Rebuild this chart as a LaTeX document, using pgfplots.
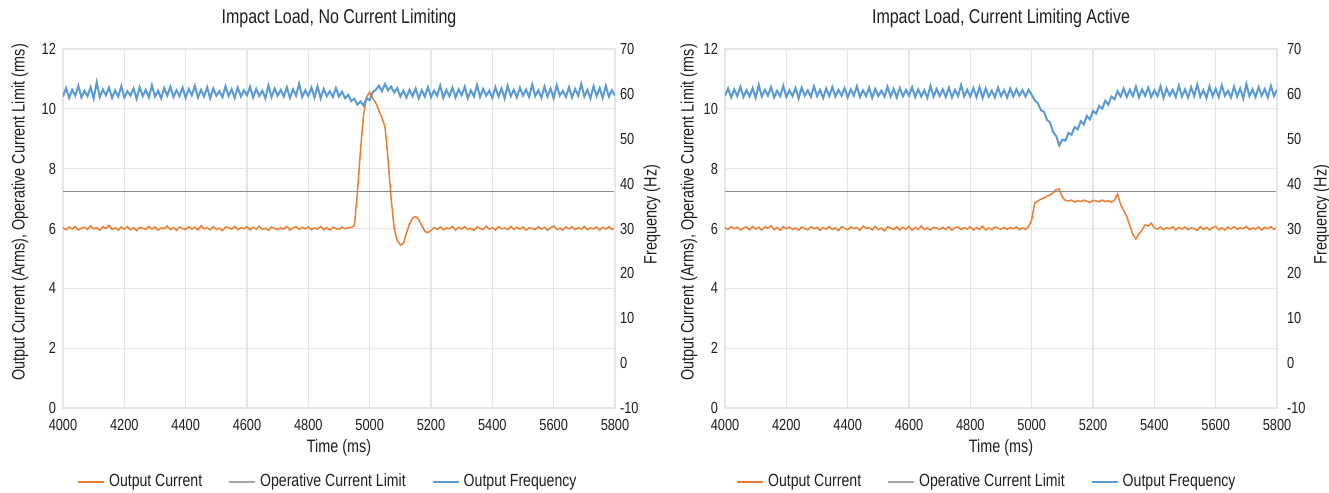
\documentclass[border=0pt]{standalone}
\usepackage{fontspec}
\setmainfont{Liberation Sans}[FakeStretch=0.8]
\usepackage{pgfplots}
\usepackage{pgfplotstable}
\pgfplotsset{compat=1.18}
\definecolor{cOrange}{HTML}{ED7D31}
\definecolor{cGray}{HTML}{A5A5A5}
\definecolor{cLimit}{HTML}{8C8C8C}
\definecolor{cBlue}{HTML}{5B9BD5}
\definecolor{cGrid}{HTML}{E6E6E6}
\definecolor{cText}{HTML}{1F1F1F}

\pgfplotstableread{
t I F
4000 6.02 59.4
4010 5.96 61.3
4020 6.05 59.1
4030 5.98 60.9
4040 6.07 59.6
4050 5.95 61.8
4060 6.01 59.2
4070 6.04 60.7
4080 5.97 59.5
4090 6.08 61.5
4100 5.99 59.0
4110 6.03 62.6
4120 5.94 59.3
4130 6.06 61.0
4140 6.00 59.7
4150 6.10 61.4
4160 5.97 59.1
4170 6.02 60.8
4180 5.95 59.4
4190 6.05 61.7
4200 5.98 59.2
4210 6.06 60.6
4220 5.96 59.6
4230 6.03 61.2
4240 5.93 58.9
4250 6.04 61.5
4260 6.01 59.5
4270 5.97 60.9
4280 6.07 59.2
4290 5.98 61.9
4300 6.05 59.4
4310 5.95 60.7
4320 6.02 59.0
4330 5.99 61.3
4340 6.08 59.6
4350 5.96 61.6
4360 6.03 59.3
4370 5.94 60.8
4380 6.05 59.5
4390 6.00 61.4
4400 5.97 59.1
4410 6.06 61.1
4420 5.98 59.7
4430 6.04 61.8
4440 5.95 59.2
4450 6.09 60.9
4460 5.99 59.4
4470 6.02 61.5
4480 5.96 59.0
4490 6.06 61.2
4500 5.97 59.6
4510 6.01 60.6
4520 5.93 59.3
4530 6.05 61.7
4540 6.02 59.5
4550 5.98 61.0
4560 6.07 59.1
4570 5.96 61.4
4580 6.03 59.4
4590 5.99 60.8
4600 6.06 59.7
4610 5.95 61.6
4620 6.04 59.2
4630 5.98 61.1
4640 6.08 59.5
4650 5.97 60.7
4660 6.01 59.0
4670 5.94 61.9
4680 6.05 59.3
4690 6.00 61.2
4700 5.96 59.6
4710 6.03 60.9
4720 5.98 59.4
4730 6.07 61.5
4740 5.95 59.1
4750 6.02 61.0
4760 6.06 59.6
4770 5.97 62.3
4780 6.04 59.3
4790 5.99 60.8
4800 6.05 59.5
4810 5.96 61.4
4820 6.02 59.2
4830 5.98 61.7
4840 6.07 59.0
4850 5.96 61.1
4860 6.03 59.5
4870 5.95 60.6
4880 6.04 59.3
4890 6.00 61.3
4900 5.97 59.4
4910 6.05 60.5
4920 5.99 59.0
4930 6.02 59.8
4940 6.04 58.4
4950 6.08 58.9
4960 7.20 57.6
4970 8.60 58.3
4980 9.80 57.4
4990 10.40 59.0
5000 10.55 58.6
5010 10.35 60.4
5020 10.20 60.9
5030 9.95 61.8
5040 9.70 60.6
5050 9.40 62.2
5060 8.30 60.8
5070 7.00 61.6
5080 6.00 60.3
5090 5.60 61.3
5100 5.45 59.4
5110 5.50 60.7
5120 5.85 59.2
5130 6.15 60.9
5140 6.35 59.5
5150 6.40 61.2
5160 6.30 59.0
5170 6.10 60.8
5180 5.90 59.4
5190 5.86 61.5
5200 5.94 59.3
5210 6.03 60.7
5220 5.97 59.6
5230 6.05 61.8
5240 5.96 59.1
5250 6.02 60.9
5260 5.99 59.5
5270 6.07 61.4
5280 5.95 59.2
5290 6.04 61.0
5300 5.98 59.7
5310 6.06 61.6
5320 5.96 59.0
5330 6.01 60.8
5340 5.94 59.4
5350 6.05 62.0
5360 6.00 59.3
5370 5.97 61.1
5380 6.08 59.6
5390 5.98 60.7
5400 6.03 59.1
5410 5.95 61.5
5420 6.06 59.4
5430 5.99 61.2
5440 6.02 59.0
5450 5.96 61.8
5460 6.07 59.5
5470 5.97 60.9
5480 6.04 59.2
5490 5.98 61.4
5500 6.05 59.6
5510 5.95 61.0
5520 6.02 59.3
5530 6.00 62.1
5540 5.96 59.5
5550 6.06 60.8
5560 5.98 59.1
5570 6.04 61.6
5580 5.94 59.4
5590 6.03 61.2
5600 6.08 59.0
5610 5.97 61.9
5620 6.01 59.6
5630 5.95 60.7
5640 6.05 59.3
5650 5.99 61.5
5660 6.06 59.2
5670 5.96 61.1
5680 6.03 59.6
5690 5.98 62.2
5700 6.07 59.4
5710 5.96 60.9
5720 6.02 59.0
5730 5.99 61.7
5740 6.05 59.5
5750 5.95 61.3
5760 6.04 59.1
5770 5.98 61.8
5780 6.06 59.4
5790 5.97 60.8
5800 6.01 59.6
}\dataA

\pgfplotstableread{
t I F
4000 6.03 59.5
4010 5.97 61.2
4020 6.06 59.2
4030 5.99 61.0
4040 6.04 59.5
4050 5.95 61.6
4060 6.02 59.3
4070 6.05 60.8
4080 5.96 59.4
4090 6.07 61.3
4100 5.98 59.1
4110 6.04 62.0
4120 5.95 59.4
4130 6.05 60.9
4140 6.01 59.6
4150 6.09 61.5
4160 5.96 59.2
4170 6.03 60.7
4180 5.94 59.5
4190 6.06 61.8
4200 5.99 59.3
4210 6.05 60.8
4220 5.97 59.5
4230 6.02 61.3
4240 5.94 59.0
4250 6.05 61.4
4260 6.00 59.6
4270 5.96 60.8
4280 6.06 59.3
4290 5.99 61.7
4300 6.04 59.5
4310 5.94 60.9
4320 6.03 59.1
4330 5.98 61.2
4340 6.07 59.5
4350 5.97 61.5
4360 6.02 59.4
4370 5.93 60.9
4380 6.06 59.6
4390 6.01 61.3
4400 5.96 59.2
4410 6.05 61.0
4420 5.99 59.6
4430 6.03 61.7
4440 5.94 59.3
4450 6.08 60.8
4460 6.00 59.5
4470 6.03 61.4
4480 5.95 59.1
4490 6.07 61.1
4500 5.96 59.5
4510 6.02 60.7
4520 5.92 59.4
4530 6.06 61.6
4540 6.01 59.4
4550 5.97 61.1
4560 6.06 59.2
4570 5.95 61.3
4580 6.04 59.5
4590 5.98 60.9
4600 6.07 59.6
4610 5.94 61.5
4620 6.03 59.3
4630 5.97 61.0
4640 6.09 59.4
4650 5.96 60.8
4660 6.02 59.1
4670 5.95 61.8
4680 6.04 59.4
4690 6.01 61.1
4700 5.97 59.5
4710 6.04 61.0
4720 5.97 59.3
4730 6.06 61.4
4740 5.94 59.2
4750 6.03 60.9
4760 6.05 59.5
4770 5.96 62.0
4780 6.03 59.4
4790 5.98 60.9
4800 6.06 59.4
4810 5.95 61.3
4820 6.03 59.3
4830 5.97 61.5
4840 6.08 59.1
4850 5.95 61.2
4860 6.02 59.4
4870 5.96 60.7
4880 6.05 59.2
4890 6.01 61.4
4900 5.98 59.5
4910 6.04 60.8
4920 5.97 59.2
4930 6.03 61.2
4940 5.99 59.4
4950 6.05 61.0
4960 5.96 59.6
4970 6.02 60.8
4980 5.97 59.4
4990 6.06 60.9
5000 6.30 59.8
5010 6.85 58.6
5020 6.92 57.9
5030 6.98 56.4
5040 7.02 56.0
5050 7.08 54.2
5060 7.12 53.6
5070 7.20 51.5
5080 7.30 50.6
5090 7.32 48.5
5100 7.05 49.8
5110 6.94 49.6
5120 6.92 51.3
5130 6.95 50.9
5140 6.88 52.6
5150 6.93 52.1
5160 6.90 53.9
5170 6.95 53.2
5180 6.91 55.1
5190 6.87 54.3
5200 6.94 56.2
5210 6.92 55.6
5220 6.89 57.3
5230 6.95 56.7
5240 6.90 58.5
5250 6.93 57.6
5260 6.88 59.4
5270 6.95 58.8
5280 7.15 60.6
5290 6.80 59.4
5300 6.60 61.2
5310 6.40 59.3
5320 6.10 60.9
5330 5.80 59.5
5340 5.65 61.6
5350 5.82 59.2
5360 5.95 61.0
5370 6.12 59.6
5380 6.08 61.4
5390 6.18 59.3
5400 6.02 60.8
5410 5.98 59.5
5420 6.05 61.7
5430 5.96 59.1
5440 6.03 61.2
5450 5.99 59.6
5460 6.06 60.9
5470 5.95 59.3
5480 6.04 61.8
5490 5.98 59.4
5500 6.05 61.0
5510 5.96 59.2
5520 6.02 61.5
5530 6.00 59.5
5540 5.94 62.1
5550 6.06 59.4
5560 5.97 60.8
5570 6.04 59.1
5580 5.95 61.7
5590 6.03 59.5
5600 6.07 61.1
5610 5.96 59.3
5620 6.02 61.9
5630 5.95 59.6
5640 6.05 60.7
5650 5.98 59.2
5660 6.06 61.6
5670 5.97 59.4
5680 6.03 61.2
5690 5.99 59.0
5700 6.07 62.2
5710 5.96 59.5
5720 6.02 61.0
5730 5.98 59.3
5740 6.05 61.5
5750 5.95 59.6
5760 6.04 61.1
5770 5.99 59.2
5780 6.06 61.8
5790 5.97 59.5
5800 6.02 60.9
}\dataB

\pgfplotstableread{
t L
4000 7.25
5800 7.25
}\limitdata

\pgfplotsset{
  base/.style={
    scale only axis, width=276pt, height=179.5pt,
    xmin=4000, xmax=5800,
    font=\fontsize{8}{9.5}\selectfont,
    tick label style={font=\fontsize{8}{9.5}\selectfont, text=cText},
    label style={font=\fontsize{9}{10.5}\selectfont, text=cText},
    /pgf/number format/assume math mode=true,
    /pgf/number format/1000 sep={},
    major tick length=0pt,
    axis line style={cGrid, line width=0.6pt},
  },
  primary/.style={
    base,
    ymin=0, ymax=12, ytick={0,2,...,12},
    xtick={4000,4200,...,5800},
    grid=major, grid style={cGrid, line width=0.55pt},
    xticklabel style={yshift=-2pt},
    xlabel={Time (ms)},
    xlabel style={at={(axis description cs:0.5,0)}, anchor=center, yshift=-20pt},
    ylabel={Output Current (Arms), Operative Current Limit (rms)},
    ylabel style={at={(axis description cs:0,0.5)}, anchor=center, xshift=8pt, yshift=21.5pt},
    every axis title shift=0pt,
    title style={at={(axis description cs:0.5,1)}, anchor=center, yshift=15.5pt, font=\fontsize{10}{12}\selectfont, text=cText},
    legend columns=3,
    legend style={at={(axis description cs:0.5,0)}, anchor=center, yshift=-37pt, xshift=-5pt, draw=none, fill=none,
      font=\fontsize{8.8}{10}\selectfont, text=cText,
      /tikz/every even column/.append style={column sep=11pt}},
    legend image code/.code={\draw[#1] (0pt,0pt) -- (13pt,0pt);},
  },
  secondary/.style={
    base,
    axis y line*=right, axis x line=none,
    ymin=-10, ymax=70, ytick={-10,0,...,70},
    ylabel={Frequency (Hz)},
    ylabel style={at={(axis description cs:1,0.5)}, anchor=center, xshift=7pt, yshift=-18.5pt},
  },
}

\begin{document}
\begin{tikzpicture}
\useasboundingbox (-31.5pt,-42.5pt) rectangle (633pt,204pt);

% ---------- Left chart ----------
\begin{axis}[primary, at={(0pt,0pt)}, title={Impact Load, No Current Limiting}]
\addplot[cOrange, line width=0.75pt] table[x=t, y=I] {\dataA};
\addlegendentry{Output Current}
\addplot[cLimit, line width=0.6pt, forget plot] table[x=t, y=L] {\limitdata};
\addlegendimage{cGray, line width=1pt}
\addlegendentry{Operative Current Limit}
\addlegendimage{cBlue, line width=1pt}
\addlegendentry{Output Frequency}
\end{axis}
\begin{axis}[secondary, at={(0pt,0pt)}, yticklabel style={xshift=-1pt}]
\addplot[cBlue, line width=1pt] table[x=t, y=F] {\dataA};
\end{axis}

% ---------- Right chart ----------
\begin{axis}[primary, at={(331pt,0pt)}, title={Impact Load, Current Limiting Active},
  ylabel style={yshift=-3.5pt}, legend style={xshift=-1.5pt}]
\addplot[cOrange, line width=0.75pt] table[x=t, y=I] {\dataB};
\addlegendentry{Output Current}
\addplot[cLimit, line width=0.6pt, forget plot] table[x=t, y=L] {\limitdata};
\addlegendimage{cGray, line width=1pt}
\addlegendentry{Operative Current Limit}
\addlegendimage{cBlue, line width=1pt}
\addlegendentry{Output Frequency}
\end{axis}
\begin{axis}[secondary, at={(331pt,0pt)}, yticklabel style={xshift=1.5pt}, ylabel style={yshift=-4pt}]
\addplot[cBlue, line width=1pt] table[x=t, y=F] {\dataB};
\end{axis}
\end{tikzpicture}
\end{document}
